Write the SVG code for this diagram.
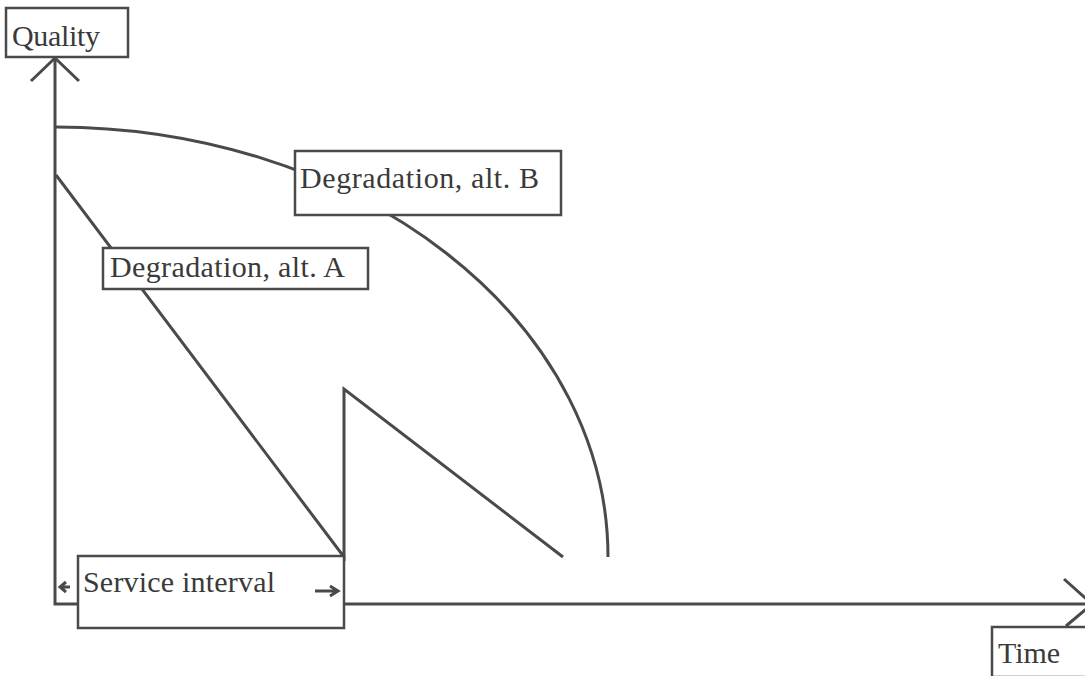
<svg xmlns="http://www.w3.org/2000/svg" width="1085" height="676" viewBox="0 0 1085 676">
<style>
.ln{fill:none;stroke:#4a4a4a;stroke-width:3;stroke-linecap:butt;stroke-linejoin:miter}
.box{fill:#fff;stroke:#4a4a4a;stroke-width:2.5}
.t{font-family:"Liberation Serif","Times New Roman",serif;font-size:30px;fill:#3a3a3a}
</style>
<rect width="1085" height="676" fill="#fff"/>
<g id="connectors">
<path class="ln" d="M55,60 V604 H1092"/>
<path class="ln" d="M31,81 L55,58 L79,81"/>
<path class="ln" d="M1064,579 L1092,604 L1066,626"/>
<path class="ln" d="M56,127 A553,430 0 0 1 608,557"/>
<path class="ln" d="M56,175 L344,557 V389 L563,557"/>
</g>
<g id="quality">
<rect class="box" x="6" y="8" width="122" height="49"/>
<text class="t" x="12" y="46" textLength="88">Quality</text>
</g>
<g id="time">
<rect class="box" x="992" y="627" width="100" height="50"/>
<text class="t" x="998" y="663" textLength="62">Time</text>
</g>
<g id="degB">
<rect class="box" x="295" y="151" width="266" height="64"/>
<text class="t" x="300" y="188" textLength="239">Degradation, alt. B</text>
</g>
<g id="degA">
<rect class="box" x="103" y="248" width="265" height="41"/>
<text class="t" x="110" y="277" textLength="235">Degradation, alt. A</text>
</g>
<g id="service">
<rect class="box" x="78" y="556" width="266" height="72"/>
<text class="t" x="83" y="592" textLength="192">Service interval</text>
<path class="ln" d="M60,587 H70 M66,582 L60,587 L66,592" stroke-width="3"/>
<path class="ln" d="M315,591 H336 M330,586 L338,591 L330,596" stroke-width="3"/>
</g>
</svg>
